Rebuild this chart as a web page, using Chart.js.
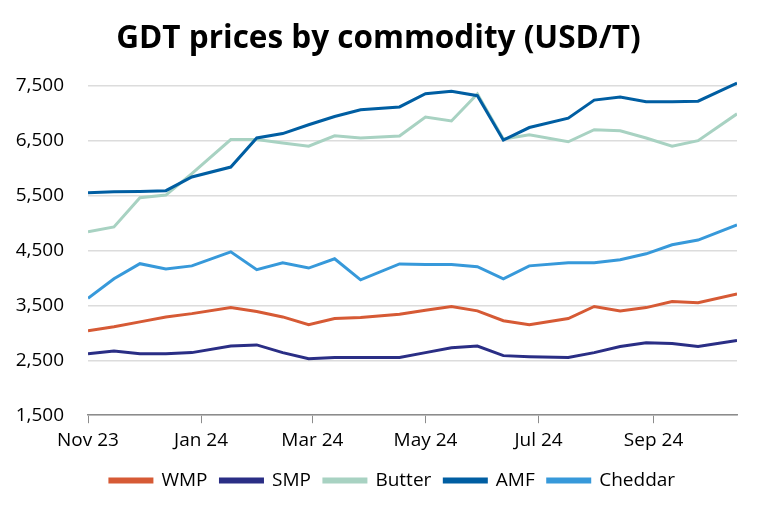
<!DOCTYPE html>
<html lang="en">
<head>
  <meta charset="UTF-8" />
  <title>GDT prices by commodity</title>
  <script src="https://cdn.jsdelivr.net/npm/chart.js@4.4.1"></script>
  <style>
    html, body { margin:0; padding:0; background:#fff; }
    .wrap { width:757px; height:510px; }
  </style>
</head>
<body>
<div class="wrap"><canvas id="myChart" width="757" height="510"></canvas></div>

<script>
  // GDT auction dates
  var auctionDates = ['2023-11-21','2023-12-05','2023-12-19','2024-01-02','2024-01-16','2024-02-06',
    '2024-02-20','2024-03-05','2024-03-19','2024-04-02','2024-04-16','2024-05-07',
    '2024-05-21','2024-06-04','2024-06-18','2024-07-02','2024-07-16','2024-08-06',
    '2024-08-20','2024-09-03','2024-09-17','2024-10-01','2024-10-15','2024-11-05'];

  var wmp     = [3040,3110,3200,3290,3350,3460,3390,3290,3150,3260,3280,3340,
                 3410,3480,3400,3220,3150,3260,3480,3400,3460,3570,3550,3710];
  var smp     = [2620,2670,2620,2620,2640,2760,2780,2640,2530,2550,2550,2550,
                 2640,2730,2760,2585,2565,2550,2640,2750,2820,2805,2750,2860];
  var butter  = [4840,4930,5460,5510,5900,6520,6520,6460,6400,6590,6550,6585,
                 6930,6860,7350,6530,6610,6480,6700,6680,6550,6400,6500,6990];
  var amf     = [5550,5570,5575,5590,5840,6020,6550,6630,6790,6940,7065,7115,
                 7355,7400,7320,6510,6740,6910,7240,7295,7210,7210,7220,7550];
  var cheddar = [3630,3985,4260,4165,4220,4475,4150,4275,4180,4350,3965,4255,
                 4245,4245,4205,3985,4220,4275,4275,4330,4440,4605,4690,4965];

  var tickDates  = ['2023-11-21','2024-01-21','2024-03-21','2024-05-21','2024-07-21','2024-09-21'];
  var tickLabels = ['Nov 23','Jan 24','Mar 24','May 24','Jul 24','Sep 24'];
  var yTicks     = [1500,2500,3500,4500,5500,6500,7500];

  var DAY = 86400000;
  var start = Date.parse(auctionDates[0]);
  function dayOf(s){ return (Date.parse(s) - start) / DAY; }
  var xs = auctionDates.map(dayOf);
  var tickXs = tickDates.map(dayOf);

  function pts(list){
    return list.map(function(v,i){ return { x:xs[i], y:v }; });
  }
  function makeSet(name, list, color, order){
    return { label:name, data:pts(list), borderColor:color, backgroundColor:color,
             borderWidth:3, pointRadius:0, tension:0, order:order };
  }

  var font = "'Open Sans', Lato, sans-serif";

  // title and legend sit a little right of centre in the original
  var nudge = {
    id:'nudge',
    afterLayout:function(chart){
      chart.legend.left += 20; chart.legend.right += 20;
      chart.titleBlock.left += 6; chart.titleBlock.right += 6;
    }
  };

  new Chart(document.getElementById('myChart'), {
    type:'line',
    data:{ datasets:[
      makeSet('WMP', wmp, '#D65A35', 0),
      makeSet('SMP', smp, '#2A2E85', 1),
      makeSet('Butter', butter, '#A8D2C2', 3),
      makeSet('AMF', amf, '#005EA2', 2),
      makeSet('Cheddar', cheddar, '#3799DA', 4)
    ]},
    plugins:[nudge],
    options:{
      responsive:false,
      animation:false,
      layout:{ padding:{ top:20, left:8, right:20, bottom:10 } },
      plugins:{
        title:{ display:true, text:'GDT prices by commodity (USD/T)', color:'#000',
          font:{ family:font, size:31.5, weight:'bold' }, padding:{ top:0, bottom:19 } },
        legend:{ position:'bottom',
          labels:{ color:'#000', boxWidth:42, boxHeight:3, padding:13,
            font:{ family:font, size:19 },
            sort:function(a,b){ return a.datasetIndex - b.datasetIndex; } } },
        tooltip:{ enabled:false }
      },
      scales:{
        x:{ type:'linear', min:0, max:xs[xs.length-1],
          afterBuildTicks:function(ax){ ax.ticks = tickXs.map(function(v){ return { value:v }; }); },
          ticks:{ color:'#000', font:{ family:font, size:19 }, padding:6, maxRotation:0,
            callback:function(v){ return tickLabels[tickXs.indexOf(v)]; } },
          grid:{ drawOnChartArea:false, drawTicks:true, tickLength:8, color:'#8c8c8c' },
          border:{ display:true, color:'#8c8c8c', width:1.5 } },
        y:{ min:1500, max:7664,
          afterBuildTicks:function(ax){ ax.ticks = yTicks.map(function(v){ return { value:v }; }); },
          afterFit:function(ax){ ax.width = 80; },
          ticks:{ color:'#000', font:{ family:font, size:19 }, padding:24,
            callback:function(v){ return v.toLocaleString('en-US'); } },
          grid:{ color:'#dcdcdc', drawTicks:false, lineWidth:1.5 },
          border:{ display:false } }
      }
    }
  });
</script>
</body>
</html>
